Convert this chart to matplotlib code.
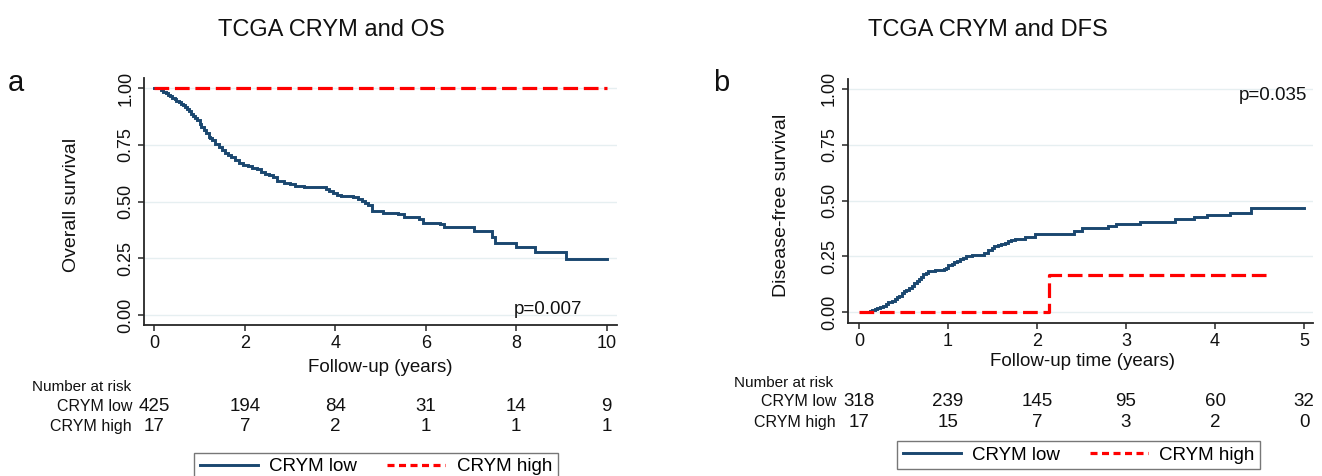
import matplotlib
matplotlib.use("Agg")
import matplotlib.pyplot as plt
from matplotlib.lines import Line2D
import matplotlib.transforms as mtransforms

plt.rcParams['font.family'] = ['Liberation Sans', 'DejaVu Sans']

# ---------------- data ----------------
titles = ["TCGA CRYM and OS", "TCGA CRYM and DFS"]
panel_letters = ["a", "b"]
ylabels = ["Overall survival", "Disease-free survival"]
xlabels = ["Follow-up (years)", "Follow-up time (years)"]
group_names = ["CRYM low", "CRYM high"]
pvalues = ["p=0.007", "p=0.035"]

# Panel a: overall survival (Kaplan-Meier steps)
os_low_t = [0, 0.15, 0.2, 0.25, 0.3, 0.35, 0.4, 0.45, 0.49, 0.54, 0.58, 0.63, 0.67,
            0.72, 0.76, 0.81, 0.86, 0.9, 0.95, 1.0, 1.04, 1.09, 1.14, 1.2, 1.24, 1.28,
            1.35, 1.42, 1.49, 1.56, 1.63, 1.7, 1.79, 1.88, 1.97, 2.07, 2.16, 2.26,
            2.35, 2.44, 2.53, 2.63, 2.72, 2.86, 3.0, 3.1, 3.3, 3.56, 3.8, 3.87, 3.94,
            4.03, 4.12, 4.4, 4.5, 4.59, 4.66, 4.73, 4.82, 5.06, 5.38, 5.52, 5.85, 5.94,
            6.32, 6.41, 7.06, 7.46, 7.53, 8.0, 8.41, 9.11, 10.0]
os_low_s = [1.0, 0.99, 0.983, 0.976, 0.97, 0.963, 0.956, 0.95, 0.944, 0.937, 0.93,
            0.923, 0.916, 0.906, 0.897, 0.887, 0.877, 0.868, 0.858, 0.843, 0.828, 0.814,
            0.80, 0.786, 0.778, 0.77, 0.755, 0.74, 0.727, 0.714, 0.704, 0.694, 0.682,
            0.67, 0.662, 0.655, 0.648, 0.641, 0.632, 0.623, 0.616, 0.609, 0.591, 0.583,
            0.576, 0.567, 0.565, 0.562, 0.557, 0.548, 0.538, 0.53, 0.523, 0.518, 0.51,
            0.503, 0.494, 0.484, 0.459, 0.45, 0.444, 0.43, 0.424, 0.406, 0.40, 0.389,
            0.371, 0.345, 0.318, 0.298, 0.276, 0.248, 0.248]
os_high_t = [0, 10.0]
os_high_s = [1.0, 1.0]

# Panel b: disease-free (cumulative failure steps)
dfs_low_t = [0.09, 0.12, 0.15, 0.18, 0.2, 0.24, 0.27, 0.3, 0.33, 0.37, 0.4, 0.43, 0.45,
             0.48, 0.5, 0.53, 0.56, 0.59, 0.62, 0.65, 0.67, 0.7, 0.72, 0.75, 0.78, 0.85,
             0.95, 0.98, 1.0, 1.04, 1.07, 1.1, 1.13, 1.17, 1.2, 1.27, 1.4, 1.45, 1.49,
             1.52, 1.56, 1.6, 1.64, 1.67, 1.71, 1.75, 1.87, 1.98, 2.42, 2.5, 2.8, 2.89,
             3.16, 3.55, 3.76, 3.91, 4.17, 4.41, 5.0]
dfs_low_s = [0.0, 0.005, 0.01, 0.015, 0.02, 0.025, 0.03, 0.037, 0.045, 0.053, 0.06,
             0.068, 0.075, 0.085, 0.095, 0.102, 0.11, 0.12, 0.13, 0.14, 0.15, 0.16,
             0.17, 0.178, 0.185, 0.19, 0.195, 0.20, 0.21, 0.218, 0.225, 0.232, 0.24,
             0.245, 0.25, 0.258, 0.265, 0.28, 0.288, 0.295, 0.3, 0.305, 0.312, 0.32,
             0.325, 0.33, 0.338, 0.35, 0.362, 0.376, 0.388, 0.395, 0.406, 0.416, 0.428,
             0.436, 0.443, 0.468, 0.468]
dfs_high_t = [0, 2.14, 4.6]
dfs_high_s = [0.0, 0.167, 0.167]

os_risk_times = [0, 2, 4, 6, 8, 10]
os_risk_low = [425, 194, 84, 31, 14, 9]
os_risk_high = [17, 7, 2, 1, 1, 1]
dfs_risk_times = [0, 1, 2, 3, 4, 5]
dfs_risk_low = [318, 239, 145, 95, 60, 32]
dfs_risk_high = [17, 15, 7, 3, 2, 0]

y_ticks = [0, 0.25, 0.5, 0.75, 1.0]
y_ticklabels = ["0.00", "0.25", "0.50", "0.75", "1.00"]

# ---------------- style ----------------
W, H = 1322, 476
NAVY = "#1a476f"
RED = "#ff0000"
GRID = "#e6eff1"
AXC = "#262626"
TXT = "#111111"

fig = plt.figure(figsize=(W / 100, H / 100), dpi=100)


def rect(left, right, top, bottom):
    return [left / W, 1 - bottom / H, (right - left) / W, (bottom - top) / H]


def fx(px):
    return px / W


def fy(py):
    return 1 - py / H


panels = [
    dict(rect=rect(144.3, 616.7, 78, 325), xlim=(-0.221, 10.221), ylim=(-0.044, 1.044),
         low=(os_low_t, os_low_s), high=(os_high_t, os_high_s),
         rt=os_risk_times, rl=os_risk_low, rh=os_risk_high,
         title_x=331, letter_x=16, ylab_x=72, ylab_y=205, xlab_x=380, xlab_y=367,
         p_xy=(582, 310), nar_x=32, nar_y=387, row_right=132, row_y=(406.5, 426.5),
         leg=(194.3, 452.5)),
    dict(rect=rect(847.7, 1313, 79.3, 323.3), xlim=(-0.127, 5.101), ylim=(-0.049, 1.043),
         low=(dfs_low_t, dfs_low_s), high=(dfs_high_t, dfs_high_s),
         rt=dfs_risk_times, rl=dfs_risk_low, rh=dfs_risk_high,
         title_x=988, letter_x=721, ylab_x=782, ylab_y=205, xlab_x=1082, xlab_y=361,
         p_xy=(1307, 95), nar_x=734, nar_y=383, row_right=836, row_y=(401.5, 422.5),
         leg=(897, 441)),
]

for i, p in enumerate(panels):
    ax = fig.add_axes(p["rect"])
    ax.set_xlim(*p["xlim"])
    ax.set_ylim(*p["ylim"])
    for s in ["top", "right"]:
        ax.spines[s].set_visible(False)
    for s in ["left", "bottom"]:
        ax.spines[s].set_color(AXC)
        ax.spines[s].set_linewidth(1.3)
    ax.set_yticks(y_ticks)
    ax.set_yticklabels(y_ticklabels, rotation=90, va="center", ha="right")
    ax.set_xticks(p["rt"])
    ax.set_xticklabels([str(t) for t in p["rt"]])
    ax.tick_params(axis="both", direction="out", length=4, width=1.1, color=AXC,
                   labelsize=13, labelcolor=TXT)
    ax.tick_params(axis="y", pad=3)
    ax.tick_params(axis="x", pad=3)
    ax.yaxis.grid(True, color=GRID, lw=1.0)
    ax.set_axisbelow(True)

    ax.plot(p["low"][0], p["low"][1], drawstyle="steps-post", color=NAVY, lw=2.1,
            solid_joinstyle="miter", zorder=3)
    ax.plot(p["high"][0], p["high"][1], drawstyle="steps-post", color=RED, lw=2.3,
            dashes=(4.6, 1.8), zorder=4)

    # titles and labels
    fig.text(fx(p["title_x"]), fy(36), titles[i], ha="center", va="baseline",
             fontsize=17, color=TXT)
    fig.text(fx(p["letter_x"]), fy(91), panel_letters[i], ha="center", va="baseline",
             fontsize=21, color=TXT)
    fig.text(fx(p["ylab_x"]), fy(p["ylab_y"]), ylabels[i], rotation=90, ha="center",
             va="center", fontsize=14, color=TXT)
    fig.text(fx(p["xlab_x"]), fy(p["xlab_y"]), xlabels[i], ha="center", va="center",
             fontsize=13.5, color=TXT)
    fig.text(fx(p["p_xy"][0]), fy(p["p_xy"][1]), pvalues[i], ha="right", va="center",
             fontsize=13.5, color=TXT)

    # number at risk table
    fig.text(fx(p["nar_x"]), fy(p["nar_y"]), "Number at risk", ha="left", va="center",
             fontsize=11, color=TXT)
    trans = mtransforms.blended_transform_factory(ax.transData, fig.transFigure)
    for r, (name, counts) in enumerate(zip(group_names, [p["rl"], p["rh"]])):
        yy = fy(p["row_y"][r])
        fig.text(fx(p["row_right"]), yy, name, ha="right", va="center", fontsize=11.5,
                 color=TXT)
        for t, c in zip(p["rt"], counts):
            ax.text(t, yy, str(c), transform=trans, ha="center", va="center",
                    fontsize=13.5, color=TXT, clip_on=False)

    # legend
    handles = [Line2D([0], [0], color=NAVY, lw=2.1),
               Line2D([0], [0], color=RED, lw=2.3, dashes=(2.2, 1.4))]
    leg = fig.legend(handles, group_names, loc="upper left",
                     bbox_to_anchor=(fx(p["leg"][0]), fy(p["leg"][1])),
                     ncol=2, fontsize=13.5, frameon=True, fancybox=False,
                     edgecolor="#555555", handlelength=3.1, handletextpad=0.6,
                     columnspacing=1.6, borderpad=0.3, borderaxespad=0)
    leg.get_frame().set_linewidth(1.0)

fig.savefig("out.png", dpi=100, facecolor="white")
